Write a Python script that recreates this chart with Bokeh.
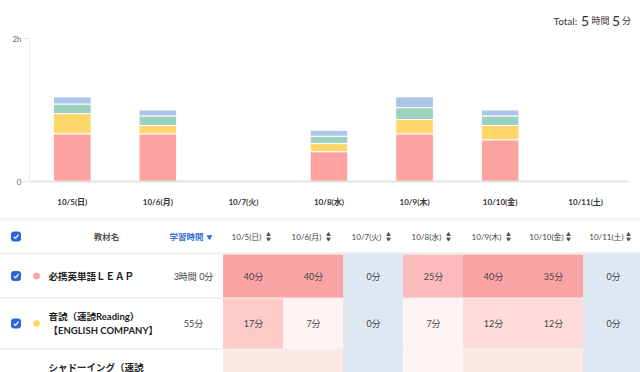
from bokeh.plotting import figure
from bokeh.models import ColumnDataSource, Range1d, FixedTicker
from bokeh.layouts import column
from bokeh.embed import file_html
from bokeh.resources import INLINE
from bokeh.core.properties import value

# ---------------- data ----------------
dates = ["10/5(日)", "10/6(月)", "10/7(火)", "10/8(水)", "10/9(木)", "10/10(金)", "10/11(土)"]
leap = [40, 40, 0, 25, 40, 35, 0]          # 必携英単語ＬＥＡＰ
ondoku = [17, 7, 0, 7, 12, 12, 0]          # 音読（速読Reading）
shadowing = [8, 8, 0, 6, 10, 8, 0]         # シャドーイング（速読Reading）
other = [6, 5, 0, 5, 9, 5, 0]              # 4th material (hidden below)
series_keys = ["leap", "ondoku", "shadowing", "other"]
series_colors = ["#fea1a1", "#fed76a", "#9bd1bf", "#abc6e8"]
material_names = [["必携英単語ＬＥＡＰ"],
                  ["音読（速読Reading）", "【ENGLISH COMPANY】"],
                  ["シャドーイング（速読"]]
y_ticks = [0, 120]
y_tick_labels = {0: "0", 120: "2h"}

FONT = "Lato, 'Noto Sans CJK JP', sans-serif"
W = 640


def fmt_minutes(m):
    h, mm = divmod(m, 60)
    return f"{h}時間 {mm}分" if h else f"{mm}分"


def heat(v):
    if v == 0:
        return "#dfe7f3"
    for limit, c in [(7, "#fff4f4"), (10, "#fde8e8"), (15, "#fedcdc"), (20, "#fdc9c9"), (30, "#fcbcbc")]:
        if v <= limit:
            return c
    return "#f9a4a4"


series = [leap, ondoku, shadowing, other]
total = sum(sum(s) for s in series)
th, tm = divmod(total, 60)


def blank(height, y0, y1):
    f = figure(width=W, height=height, x_range=Range1d(0, W), y_range=Range1d(y1, y0),
               output_backend="svg", toolbar_location=None,
               x_axis_location=None, y_axis_location=None, min_border=0)
    f.frame_align = False
    f.grid.visible = False
    f.outline_line_color = None
    return f


# ---------------- total line ----------------
top = blank(30, 0, 30)
top.text(x=[553], y=[20], text=["Total:"], text_font=value(FONT), text_font_size="10px",
         text_color="#333333", text_align="left", text_baseline="alphabetic")
top.text(x=[580.5, 611.5], y=[20, 20], text=[str(th), str(tm)], text_font=value(FONT),
         text_font_size="14px", text_color="#333333", text_align="left", text_baseline="alphabetic")
top.text(x=[591, 621.5], y=[20, 20], text=["時間", "分"], text_font=value(FONT),
         text_font_size="9px", text_color="#333333", text_align="left", text_baseline="alphabetic")

# ---------------- stacked bar chart ----------------
chart = figure(width=W, height=182, x_range=dates, y_range=Range1d(0, 120),
               output_backend="svg", toolbar_location=None,
               min_border_left=29, min_border_right=12, min_border_top=8, min_border_bottom=31)
chart.frame_align = False
src = ColumnDataSource(dict(date=dates, leap=leap, ondoku=ondoku, shadowing=shadowing, other=other))
chart.vbar_stack(series_keys, x="date", width=0.44, color=series_colors, source=src,
                 line_color="white", line_width=1)
chart.outline_line_color = None
chart.xgrid.visible = False
chart.ygrid.grid_line_color = "#eeeeee"
chart.yaxis.ticker = FixedTicker(ticks=y_ticks)
chart.yaxis.major_label_overrides = y_tick_labels
chart.yaxis.axis_line_color = "#eeeeee"
chart.yaxis.major_tick_out = 6
chart.yaxis.major_tick_in = 0
chart.yaxis.major_tick_line_color = "#e8e8e8"
chart.yaxis.minor_tick_line_color = None
chart.yaxis.major_label_standoff = 2
chart.yaxis.major_label_text_font_size = "8px"
chart.yaxis.major_label_text_color = "#666666"
chart.yaxis.major_label_text_font = FONT
chart.xaxis.axis_line_color = "#e3e3e3"
chart.xaxis.axis_line_width = 2
chart.xaxis.major_tick_line_color = None
chart.xaxis.major_label_standoff = 9
chart.xaxis.major_label_text_font_size = "8px"
chart.xaxis.major_label_text_font_style = "bold"
chart.xaxis.major_label_text_color = "#333333"
chart.xaxis.major_label_text_font = FONT

# ---------------- table ----------------
tbl = blank(160, 212, 372)

col_x0, col_w = 223, 60
header_y = 236
row_top = [254, 298, 349]
row_h = [43, 50, 64]
row_c = [t + h / 2 for t, h in zip(row_top, row_h)]
visible_rows = 2   # rows whose texts lie inside the picture

# separators
tbl.rect(x=[320, 320], y=[218.5, 253], width=700, height=2, color="#f2f2f2")
tbl.rect(x=[320, 320], y=[297.5, 348.5], width=700, height=1, color="#f1f1f1")

# cells
cx, cy, cw, ch, cc, ct = [], [], [], [], [], []
for i, s in enumerate(series[:3]):
    for j, v in enumerate(s):
        cx.append(col_x0 + j * col_w + col_w / 2)
        cy.append(row_c[i])
        cw.append(col_w)
        ch.append(row_h[i] + 1 if v == 0 else row_h[i] - 1)
        cc.append(heat(v))
        ct.append(f"{v}分")
tbl.rect(x=cx, y=cy, width=cw, height=ch, color=cc)
n_txt = visible_rows * len(dates)
tbl.text(x=cx[:n_txt], y=cy[:n_txt], text=ct[:n_txt], text_font=value(FONT), text_font_size="9px",
         text_color="#444444", text_align="center", text_baseline="middle")

# header
col_centers = [col_x0 + j * col_w + col_w / 2 for j in range(len(dates))]
tbl.text(x=[c - 7 for c in col_centers], y=[header_y] * len(dates), text=dates,
         text_font=value(FONT), text_font_size="8px", text_color="#444444",
         text_align="center", text_baseline="middle")
tbl.scatter(x=[c + 15 for c in col_centers], y=[header_y - 2] * len(dates), marker="triangle",
            size=3.5, color="#555555")
tbl.scatter(x=[c + 15 for c in col_centers], y=[header_y + 2.5] * len(dates),
            marker="inverted_triangle", size=3.5, color="#555555")
tbl.text(x=[106], y=[header_y], text=["教材名"], text_font=value(FONT), text_font_size="8.5px",
         text_font_style="bold", text_color="#555555", text_align="center", text_baseline="middle")
tbl.text(x=[186], y=[header_y], text=["学習時間"], text_font=value(FONT), text_font_size="8.5px",
         text_font_style="bold", text_color="#3a70d8", text_align="center", text_baseline="middle")
tbl.scatter(x=[209], y=[header_y + 0.5], marker="inverted_triangle", size=4.5, color="#3a70d8")

# checkboxes
cb_y = [header_y] + row_c[:visible_rows]
tbl.rect(x=[15.5] * len(cb_y), y=cb_y, width=9, height=9, color="#2b63db", border_radius=2)
tbl.multi_line(xs=[[13.3, 15, 18] for _ in cb_y], ys=[[y + 0.2, y + 1.9, y - 1.8] for y in cb_y],
               line_color="white", line_width=1.3)

# dots
tbl.scatter(x=[36] * visible_rows, y=row_c[:visible_rows], size=6, color=series_colors[:visible_rows])

# names
nx, ny, nt = [], [], []
for i, lines in enumerate(material_names):
    n = len(lines) if i < visible_rows else 3
    for k, line in enumerate(lines):
        nx.append(48)
        ny.append(row_c[i] + (k - (n - 1) / 2) * 14)
        nt.append(line)
tbl.text(x=nx, y=ny, text=nt, text_font=value(FONT), text_font_size="9.5px",
         text_font_style="bold", text_color="#222222", text_align="left", text_baseline="middle")

# totals per material
tbl.text(x=[193] * visible_rows, y=row_c[:visible_rows],
         text=[fmt_minutes(sum(s)) for s in series[:visible_rows]],
         text_font=value(FONT), text_font_size="9px", text_color="#444444",
         text_align="center", text_baseline="middle")

layout = column(top, chart, tbl, spacing=0)
open("out.html", "w").write(file_html(layout, INLINE))
